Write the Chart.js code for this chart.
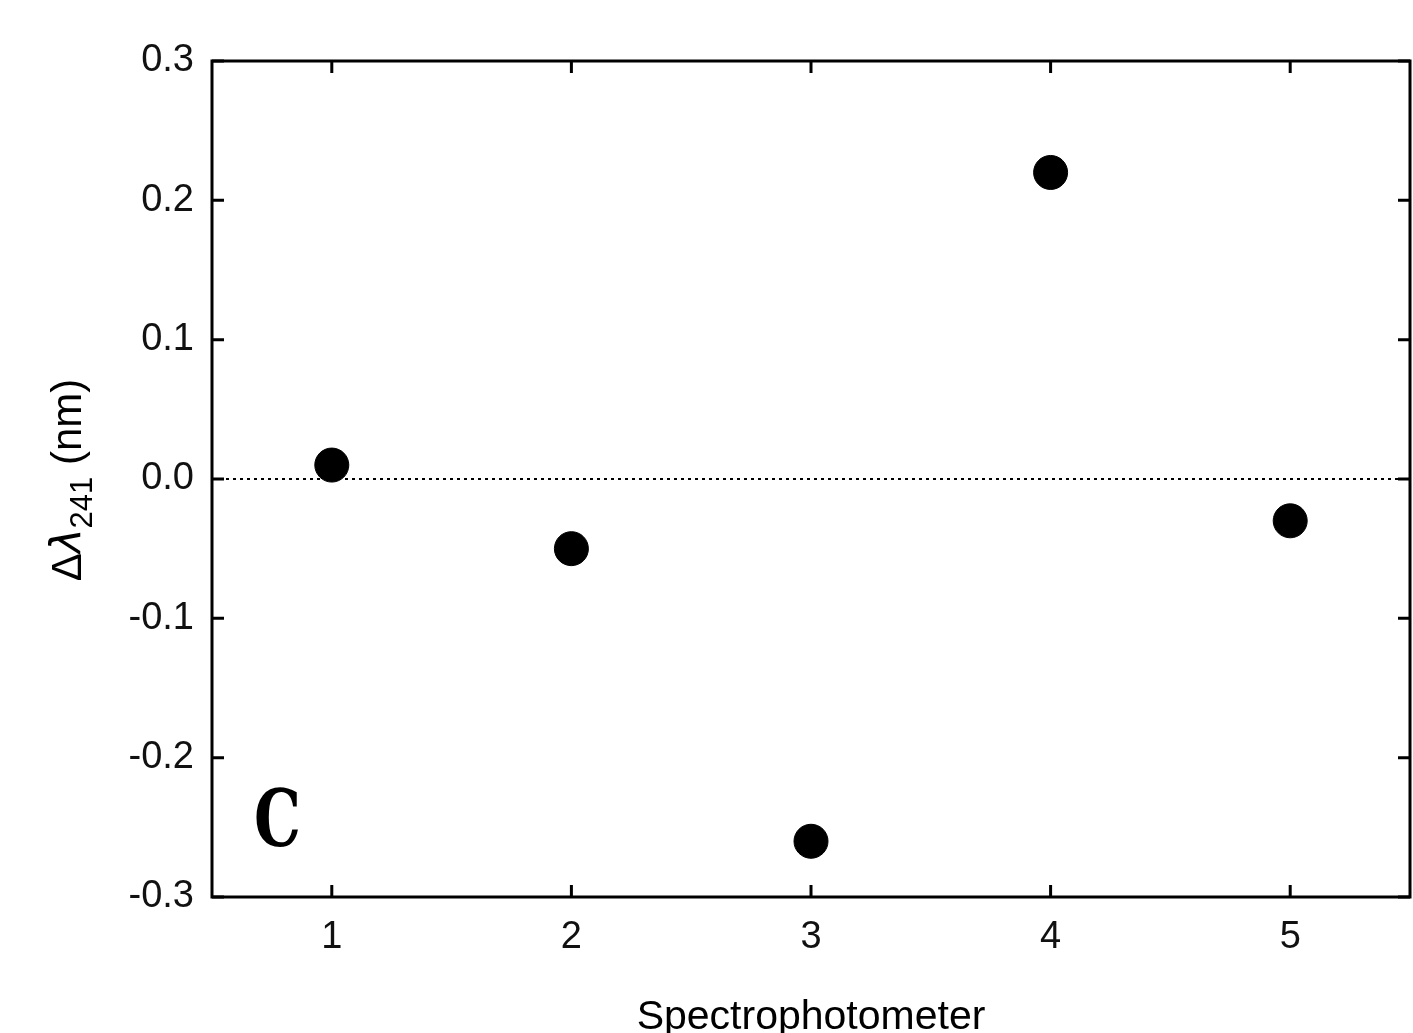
<!DOCTYPE html>
<html>
<head>
<meta charset="utf-8">
<script src="https://cdn.jsdelivr.net/npm/chart.js@4/dist/chart.umd.min.js"></script>
<style>
  html, body { margin: 0; padding: 0; background: #fff; overflow: hidden; }
  canvas { display: block; }
</style>
</head>
<body>
<canvas id="chart" width="1413" height="1033" style="width:1413px;height:1033px"></canvas>
<script>
const spectrophotometers = [1, 2, 3, 4, 5];
const deltaLambda = [0.01, -0.05, -0.26, 0.22, -0.03];
const xTicks = [1, 2, 3, 4, 5];
const yTicks = [-0.3, -0.2, -0.1, 0.0, 0.1, 0.2, 0.3];
const xTitle = 'Spectrophotometer';
const panelLabel = 'C';

const tickFont = { family: 'Liberation Sans, Arial, sans-serif', size: 38 };

// frame, inward ticks on all four sides, dotted zero line
const framePlugin = {
    id: 'frame',
    beforeDatasetsDraw(chart) {
        const { ctx, chartArea: a, scales: { x, y } } = chart;
        ctx.save();
        // dotted zero line
        ctx.strokeStyle = '#000';
        ctx.lineWidth = 2;
        ctx.setLineDash([3, 4]);
        const y0 = y.getPixelForValue(0);
        ctx.beginPath();
        ctx.moveTo(a.left, y0);
        ctx.lineTo(a.right, y0);
        ctx.stroke();
        ctx.setLineDash([]);

        ctx.lineWidth = 3;
        const tl = 12;
        ctx.beginPath();
        xTicks.forEach(v => {
            const px = x.getPixelForValue(v);
            ctx.moveTo(px, a.bottom); ctx.lineTo(px, a.bottom - tl);
            ctx.moveTo(px, a.top); ctx.lineTo(px, a.top + tl);
        });
        yTicks.forEach(v => {
            const py = y.getPixelForValue(v);
            ctx.moveTo(a.left, py); ctx.lineTo(a.left + tl, py);
            ctx.moveTo(a.right, py); ctx.lineTo(a.right - tl, py);
        });
        ctx.stroke();
        ctx.strokeRect(a.left, a.top, a.right - a.left, a.bottom - a.top);
        ctx.restore();
    },
    afterDraw(chart) {
        const { ctx, chartArea: a } = chart;
        ctx.save();
        ctx.fillStyle = '#000';
        // x title
        ctx.font = '41px Liberation Sans, Arial, sans-serif';
        ctx.textAlign = 'center';
        ctx.textBaseline = 'alphabetic';
        ctx.fillText(xTitle, (a.left + a.right) / 2, 1029);

        // y title with subscript
        ctx.translate(81, 480);
        ctx.rotate(-Math.PI / 2);
        const f1 = '42px Liberation Sans, Arial, sans-serif';
        const fl = 'italic 42px DejaVu Sans, sans-serif';
        const fs = '31px Liberation Sans, Arial, sans-serif';
        const parts = [
            { t: '\u0394', f: f1, dy: 0 },
            { t: '\u03bb', f: fl, dy: 0 },
            { t: '241', f: fs, dy: 11 },
            { t: ' (nm)', f: f1, dy: 0 }
        ];
        let total = 0;
        parts.forEach(p => { ctx.font = p.f; p.w = ctx.measureText(p.t).width; total += p.w; });
        let cx = -total / 2;
        ctx.textAlign = 'left';
        parts.forEach(p => {
            ctx.font = p.f;
            ctx.fillText(p.t, cx, p.dy);
            cx += p.w;
        });
        ctx.restore();

        // panel letter
        ctx.save();
        ctx.fillStyle = '#000';
        ctx.font = 'bold 78px DejaVu Serif Condensed, DejaVu Serif, serif';
        ctx.textBaseline = 'alphabetic';
        ctx.translate(254, 846);
        ctx.scale(0.84, 1);
        ctx.fillText(panelLabel, 0, 0);
        ctx.restore();
    }
};

new Chart(document.getElementById('chart'), {
    type: 'scatter',
    data: {
        datasets: [{
            data: spectrophotometers.map((s, i) => ({ x: s, y: deltaLambda[i] })),
            backgroundColor: '#000',
            borderColor: '#000',
            pointRadius: 17,
            pointHoverRadius: 17
        }]
    },
    options: {
        responsive: false,
        animation: false,
        devicePixelRatio: 1,
        events: [],
        layout: { autoPadding: false, padding: { top: 61, right: 3, left: 0, bottom: 0 } },
        plugins: { legend: { display: false }, tooltip: { enabled: false } },
        scales: {
            x: {
                type: 'linear',
                min: 0.5,
                max: 5.5,
                afterBuildTicks: s => { s.ticks = xTicks.map(v => ({ value: v })); },
                afterFit: s => { s.height = 136; s.paddingLeft = 0; s.paddingRight = 0; },
                grid: { display: false, drawTicks: false },
                border: { display: false },
                ticks: { color: '#111', font: tickFont, padding: 18, maxRotation: 0, autoSkip: false }
            },
            y: {
                min: -0.3,
                max: 0.3,
                afterBuildTicks: s => { s.ticks = yTicks.map(v => ({ value: v })); },
                afterFit: s => { s.width = 212; s.paddingTop = 0; s.paddingBottom = 0; },
                grid: { display: false, drawTicks: false },
                border: { display: false },
                ticks: {
                    color: '#111', font: tickFont, padding: 18, autoSkip: false,
                    callback: v => v.toFixed(1)
                }
            }
        }
    },
    plugins: [framePlugin]
});
</script>
</body>
</html>
